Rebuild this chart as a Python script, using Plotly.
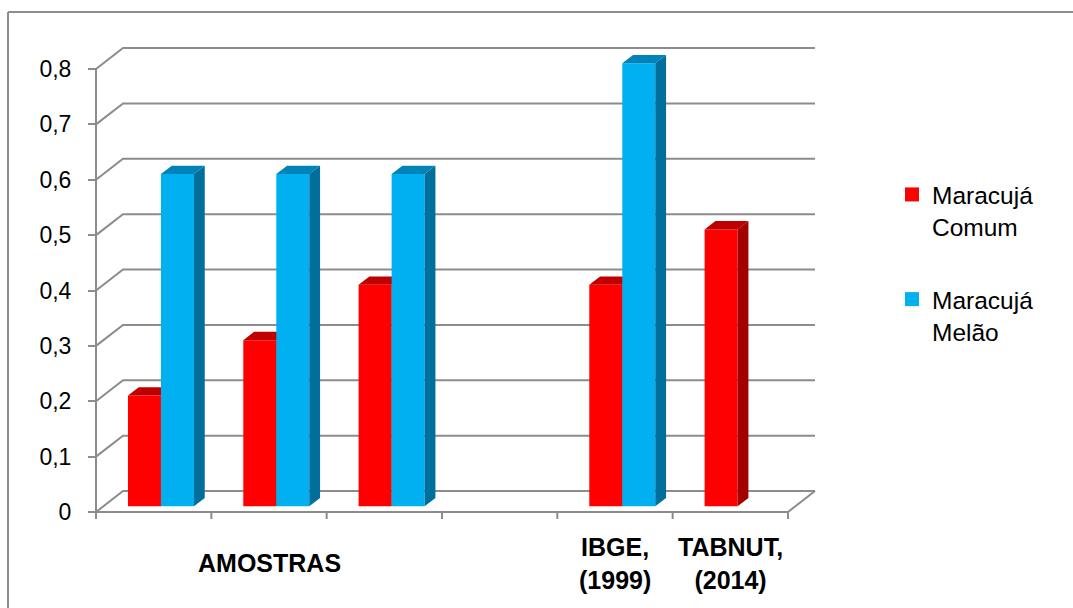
import plotly.graph_objects as go

# ---- data ----
categories = ["", "AMOSTRAS", "", "", "IBGE,<br>(1999)", "TABNUT,<br>(2014)"]
series_names = ["Maracujá<br>Comum", "Maracujá<br>Melão"]
comum = [0.2, 0.3, 0.4, None, 0.4, 0.5]
melao = [0.6, 0.6, 0.6, None, 0.8, None]
y_ticks = [0, 0.1, 0.2, 0.3, 0.4, 0.5, 0.6, 0.7, 0.8]

# ---- styling ----
face_colors = [
    dict(front="#FF0000", top="#C00000", side="#A30000"),
    dict(front="#00B0F0", top="#0084B8", side="#006F9C"),
]
GRID = "#8C8C8C"
FONT = "Liberation Sans"

W, H = 1073, 608
# plot area in pixels
PL, PR, PT, PB = 80, 860, 20, 530
# front-plane origin and scale (pixels)
X0, Y0 = 96, 512
SX = 115.33            # pixels per category
SY = 553.75            # pixels per unit value
# depth vector of the 3-D box, in pixels
DEPTH_PX = (27, 21)

dxD = DEPTH_PX[0] / SX
dyD = DEPTH_PX[1] / SY
n_cat = len(categories)

x_range = [(PL - X0) / SX, (PR - X0) / SX]
y_range = [-(PB - Y0) / SY, (Y0 - PT) / SY]


def paper_x(px):
    return (px - PL) / (PR - PL)


def paper_y(py):
    return (PB - py) / (PB - PT)


fig = go.Figure()


def add_poly(xs, ys, color):
    fig.add_trace(go.Scatter(
        x=xs + [xs[0]], y=ys + [ys[0]], mode="lines", fill="toself",
        fillcolor=color, line=dict(width=0, color=color),
        hoverinfo="skip", showlegend=False))


def add_line(xs, ys, color=GRID, width=2):
    fig.add_trace(go.Scatter(
        x=xs, y=ys, mode="lines", line=dict(color=color, width=width),
        hoverinfo="skip", showlegend=False))


# back wall / side wall gridlines
top_v = max(y_ticks)
for v in y_ticks:
    add_line([0, dxD, n_cat + dxD], [v, v + dyD, v + dyD])
# floor edges
add_line([0, n_cat, n_cat + dxD], [0, 0, dyD])
# front value axis line
add_line([0, 0], [0, top_v])
# category boundary ticks
tick_down = 7 / SY
for i in range(n_cat + 1):
    add_line([i, i], [0, -tick_down])

# bars: front, top and side faces
bar_w = 33 / SX
f0, f1 = 0.27, 0.67      # bar front / back position within the depth
bx0, by0 = f0 * dxD, f0 * dyD
ddx, ddy = (f1 - f0) * dxD, (f1 - f0) * dyD
all_series = [comum, melao]
for i in range(n_cat):
    for s, vals in enumerate(all_series):
        v = vals[i]
        if v is None:
            continue
        c = face_colors[s]
        xl = i + 0.5 + (-bar_w if s == 0 else 0) + bx0
        xr = xl + bar_w
        yb = by0
        yt = v + by0
        add_poly([xl, xr, xr, xl], [yb, yb, yt, yt], c["front"])
        add_poly([xl, xr, xr + ddx, xl + ddx], [yt, yt, yt + ddy, yt + ddy], c["top"])
        add_poly([xr, xr + ddx, xr + ddx, xr], [yb, yb + ddy, yt + ddy, yt], c["side"])

# legend entries
for s, name in enumerate(series_names):
    fig.add_trace(go.Scatter(
        x=[None], y=[None], mode="markers", name=name,
        legendgroup=f"g{s}",
        marker=dict(symbol="square", size=14, color=face_colors[s]["front"])))

# category labels
for i, lab in enumerate(categories):
    if lab:
        fig.add_annotation(
            x=i + 0.5, xref="x", y=paper_y(563), yref="paper",
            text=f"<b>{lab}</b>", showarrow=False, yanchor="middle",
            font=dict(family=FONT, size=25, color="#000000"))

# outer chart frame
fig.add_shape(type="line", xref="paper", yref="paper",
              x0=paper_x(8), x1=paper_x(W + 5), y0=paper_y(12), y1=paper_y(12),
              line=dict(color="#8E8E8E", width=2))
fig.add_shape(type="line", xref="paper", yref="paper",
              x0=paper_x(8), x1=paper_x(8), y0=paper_y(12), y1=paper_y(H + 5),
              line=dict(color="#8E8E8E", width=2))

fig.update_layout(
    width=W, height=H,
    margin=dict(l=PL, r=W - PR, t=PT, b=H - PB, pad=0),
    paper_bgcolor="white", plot_bgcolor="white",
    separators=",.",
    showlegend=True,
    legend=dict(x=paper_x(892), y=paper_y(172), xanchor="left", yanchor="top",
                font=dict(family=FONT, size=24.5, color="#000000"),
                valign="top", tracegroupgap=38, bgcolor="rgba(0,0,0,0)"),
    xaxis=dict(range=x_range, visible=False, fixedrange=True),
    yaxis=dict(range=y_range, anchor="free", position=paper_x(X0),
               tickvals=y_ticks, ticks="outside", ticklen=8, tickwidth=2,
               tickcolor=GRID, showline=False, showgrid=False, zeroline=False,
               ticklabelstandoff=12,
               tickfont=dict(family=FONT, size=23, color="#000000"),
               fixedrange=True),
)

fig.write_html("out.html")
